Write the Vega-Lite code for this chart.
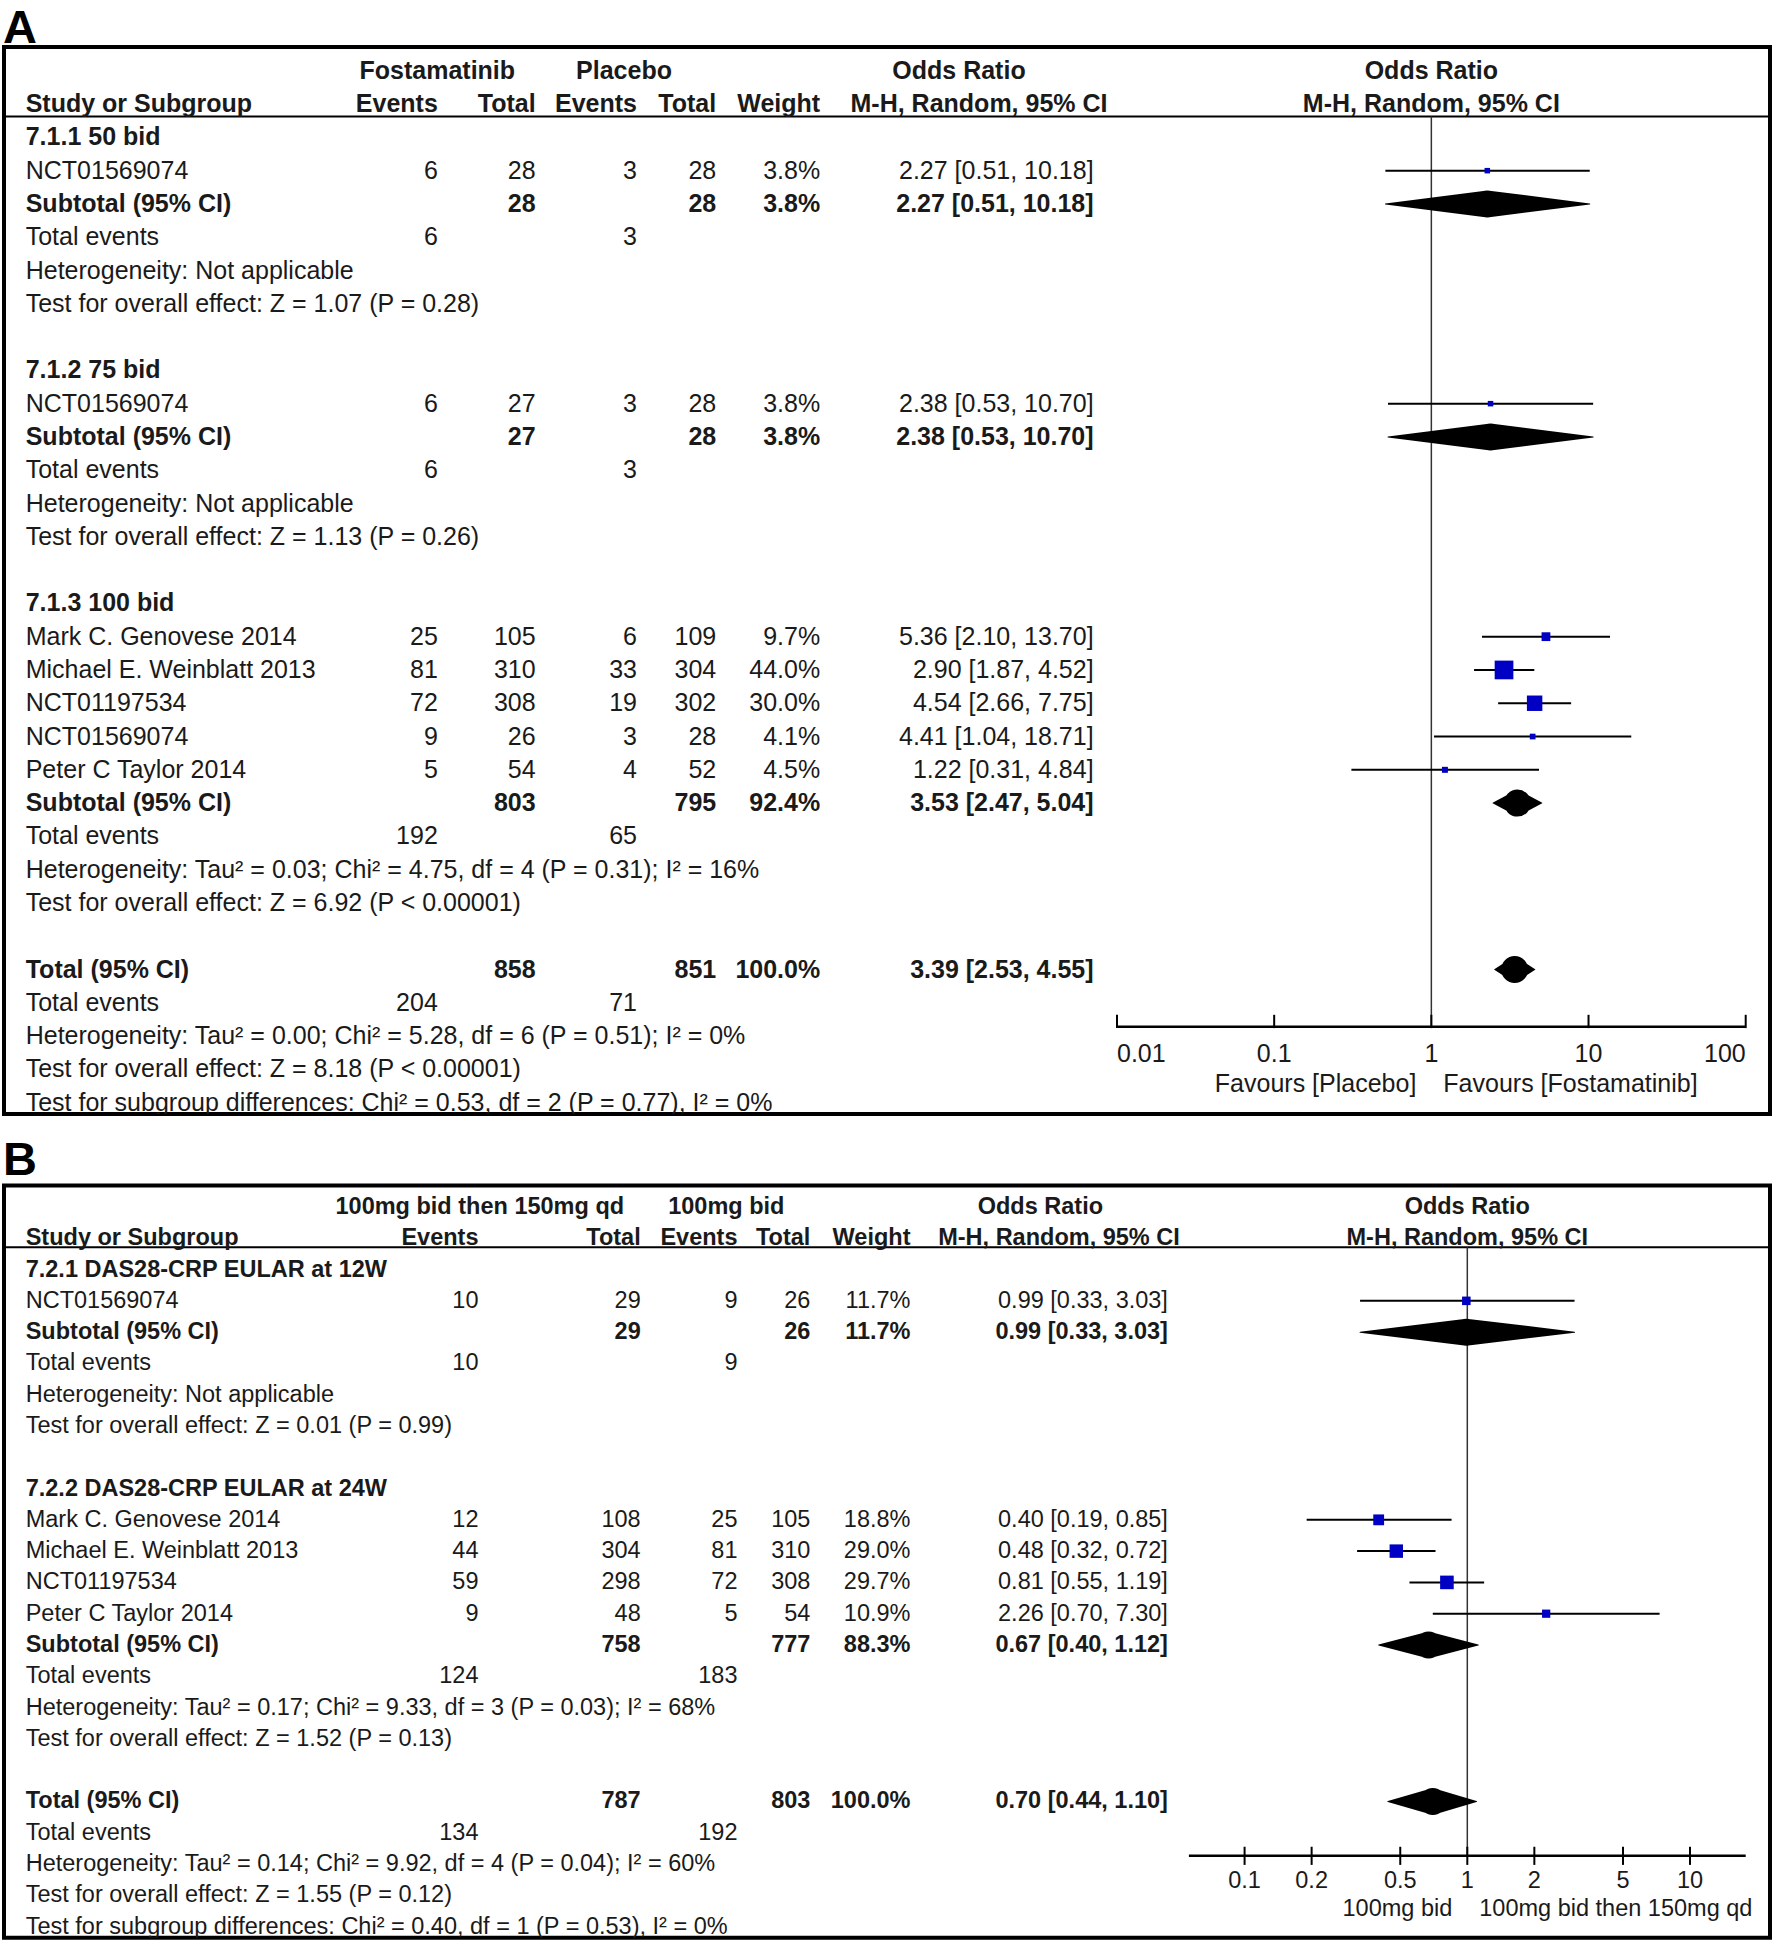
{
"$schema": "https://vega.github.io/schema/vega-lite/v6.json",
"background": "white",
"padding": {"left": 1, "top": 2, "right": 1, "bottom": 0},
"spacing": 71.4,
"bounds": "flush",
"config": {"view": {"stroke": "black", "strokeWidth": 4}},
"datasets": {
"tabA": [
{"r":0,"kind":"header","label":"Study or Subgroup","evF":"Events","totF":"Total","evP":"Events","totP":"Total","weight":"Weight"},
{"r":1,"kind":"group","label":"7.1.1 50 bid"},
{"r":2,"kind":"study","label":"NCT01569074","evF":6,"totF":28,"evP":3,"totP":28,"weight":"3.8%","ci":"2.27 [0.51, 10.18]","est":2.27,"lo":0.51,"hi":10.18,"w":3.8},
{"r":3,"kind":"sub","label":"Subtotal (95% CI)","totF":28,"totP":28,"weight":"3.8%","ci":"2.27 [0.51, 10.18]","est":2.27,"lo":0.51,"hi":10.18},
{"r":4,"kind":"info","label":"Total events","evF":6,"evP":3},
{"r":5,"kind":"info","label":"Heterogeneity: Not applicable"},
{"r":6,"kind":"info","label":"Test for overall effect: Z = 1.07 (P = 0.28)"},
{"r":8,"kind":"group","label":"7.1.2 75 bid"},
{"r":9,"kind":"study","label":"NCT01569074","evF":6,"totF":27,"evP":3,"totP":28,"weight":"3.8%","ci":"2.38 [0.53, 10.70]","est":2.38,"lo":0.53,"hi":10.7,"w":3.8},
{"r":10,"kind":"sub","label":"Subtotal (95% CI)","totF":27,"totP":28,"weight":"3.8%","ci":"2.38 [0.53, 10.70]","est":2.38,"lo":0.53,"hi":10.7},
{"r":11,"kind":"info","label":"Total events","evF":6,"evP":3},
{"r":12,"kind":"info","label":"Heterogeneity: Not applicable"},
{"r":13,"kind":"info","label":"Test for overall effect: Z = 1.13 (P = 0.26)"},
{"r":15,"kind":"group","label":"7.1.3 100 bid"},
{"r":16,"kind":"study","label":"Mark C. Genovese 2014","evF":25,"totF":105,"evP":6,"totP":109,"weight":"9.7%","ci":"5.36 [2.10, 13.70]","est":5.36,"lo":2.1,"hi":13.7,"w":9.7},
{"r":17,"kind":"study","label":"Michael E. Weinblatt 2013","evF":81,"totF":310,"evP":33,"totP":304,"weight":"44.0%","ci":"2.90 [1.87, 4.52]","est":2.9,"lo":1.87,"hi":4.52,"w":44.0},
{"r":18,"kind":"study","label":"NCT01197534","evF":72,"totF":308,"evP":19,"totP":302,"weight":"30.0%","ci":"4.54 [2.66, 7.75]","est":4.54,"lo":2.66,"hi":7.75,"w":30.0},
{"r":19,"kind":"study","label":"NCT01569074","evF":9,"totF":26,"evP":3,"totP":28,"weight":"4.1%","ci":"4.41 [1.04, 18.71]","est":4.41,"lo":1.04,"hi":18.71,"w":4.1},
{"r":20,"kind":"study","label":"Peter C Taylor 2014","evF":5,"totF":54,"evP":4,"totP":52,"weight":"4.5%","ci":"1.22 [0.31, 4.84]","est":1.22,"lo":0.31,"hi":4.84,"w":4.5},
{"r":21,"kind":"sub","label":"Subtotal (95% CI)","totF":803,"totP":795,"weight":"92.4%","ci":"3.53 [2.47, 5.04]","est":3.53,"lo":2.47,"hi":5.04},
{"r":22,"kind":"info","label":"Total events","evF":192,"evP":65},
{"r":23,"kind":"info","label":"Heterogeneity: Tau² = 0.03; Chi² = 4.75, df = 4 (P = 0.31); I² = 16%"},
{"r":24,"kind":"info","label":"Test for overall effect: Z = 6.92 (P < 0.00001)"},
{"r":26,"kind":"total","label":"Total (95% CI)","totF":858,"totP":851,"weight":"100.0%","ci":"3.39 [2.53, 4.55]","est":3.39,"lo":2.53,"hi":4.55},
{"r":27,"kind":"info","label":"Total events","evF":204,"evP":71},
{"r":28,"kind":"info","label":"Heterogeneity: Tau² = 0.00; Chi² = 5.28, df = 6 (P = 0.51); I² = 0%"},
{"r":29,"kind":"info","label":"Test for overall effect: Z = 8.18 (P < 0.00001)"},
{"r":30,"kind":"info","label":"Test for subgroup differences: Chi² = 0.53, df = 2 (P = 0.77), I² = 0%"}
],
"tabB": [
{"r":0,"kind":"header","label":"Study or Subgroup","evF":"Events","totF":"Total","evP":"Events","totP":"Total","weight":"Weight"},
{"r":1,"kind":"group","label":"7.2.1 DAS28-CRP EULAR at 12W"},
{"r":2,"kind":"study","label":"NCT01569074","evF":10,"totF":29,"evP":9,"totP":26,"weight":"11.7%","ci":"0.99 [0.33, 3.03]","est":0.99,"lo":0.33,"hi":3.03,"w":11.7},
{"r":3,"kind":"sub","label":"Subtotal (95% CI)","totF":29,"totP":26,"weight":"11.7%","ci":"0.99 [0.33, 3.03]","est":0.99,"lo":0.33,"hi":3.03},
{"r":4,"kind":"info","label":"Total events","evF":10,"evP":9},
{"r":5,"kind":"info","label":"Heterogeneity: Not applicable"},
{"r":6,"kind":"info","label":"Test for overall effect: Z = 0.01 (P = 0.99)"},
{"r":8,"kind":"group","label":"7.2.2 DAS28-CRP EULAR at 24W"},
{"r":9,"kind":"study","label":"Mark C. Genovese 2014","evF":12,"totF":108,"evP":25,"totP":105,"weight":"18.8%","ci":"0.40 [0.19, 0.85]","est":0.4,"lo":0.19,"hi":0.85,"w":18.8},
{"r":10,"kind":"study","label":"Michael E. Weinblatt 2013","evF":44,"totF":304,"evP":81,"totP":310,"weight":"29.0%","ci":"0.48 [0.32, 0.72]","est":0.48,"lo":0.32,"hi":0.72,"w":29.0},
{"r":11,"kind":"study","label":"NCT01197534","evF":59,"totF":298,"evP":72,"totP":308,"weight":"29.7%","ci":"0.81 [0.55, 1.19]","est":0.81,"lo":0.55,"hi":1.19,"w":29.7},
{"r":12,"kind":"study","label":"Peter C Taylor 2014","evF":9,"totF":48,"evP":5,"totP":54,"weight":"10.9%","ci":"2.26 [0.70, 7.30]","est":2.26,"lo":0.7,"hi":7.3,"w":10.9},
{"r":13,"kind":"sub","label":"Subtotal (95% CI)","totF":758,"totP":777,"weight":"88.3%","ci":"0.67 [0.40, 1.12]","est":0.67,"lo":0.4,"hi":1.12},
{"r":14,"kind":"info","label":"Total events","evF":124,"evP":183},
{"r":15,"kind":"info","label":"Heterogeneity: Tau² = 0.17; Chi² = 9.33, df = 3 (P = 0.03); I² = 68%"},
{"r":16,"kind":"info","label":"Test for overall effect: Z = 1.52 (P = 0.13)"},
{"r":18,"kind":"total","label":"Total (95% CI)","totF":787,"totP":803,"weight":"100.0%","ci":"0.70 [0.44, 1.10]","est":0.7,"lo":0.44,"hi":1.1},
{"r":19,"kind":"info","label":"Total events","evF":134,"evP":192},
{"r":20,"kind":"info","label":"Heterogeneity: Tau² = 0.14; Chi² = 9.92, df = 4 (P = 0.04); I² = 60%"},
{"r":21,"kind":"info","label":"Test for overall effect: Z = 1.55 (P = 0.12)"},
{"r":22,"kind":"info","label":"Test for subgroup differences: Chi² = 0.40, df = 1 (P = 0.53), I² = 0%"}
],
"hdrA": [{"r":-1,"g":"Fostamatinib"},{"r":-1,"g":"Placebo"}],
"hdrB": [{"r":-1,"g":"100mg bid then 150mg qd"},{"r":-1,"g":"100mg bid"}],
"orHdr": [{"r":-1,"t":"Odds Ratio"},{"r":0,"t":"M-H, Random, 95% CI"}],
"ticksA": [{"t":0.01,"lab":"0.01"},{"t":0.1,"lab":"0.1"},{"t":1,"lab":"1"},{"t":10,"lab":"10"},{"t":100,"lab":"100"}],
"ticksB": [{"t":0.1,"lab":"0.1"},{"t":0.2,"lab":"0.2"},{"t":0.5,"lab":"0.5"},{"t":1,"lab":"1"},{"t":2,"lab":"2"},{"t":5,"lab":"5"},{"t":10,"lab":"10"}],
"favA": [{"side":"left","t":"Favours [Placebo]"},{"side":"right","t":"Favours [Fostamatinib]"}],
"favB": [{"side":"left","t":"100mg bid"},{"side":"right","t":"100mg bid then 150mg qd"}],
"panA": [{"lab":"A"}],
"panB": [{"lab":"B"}],
"one": [{"k":1}]
},
"vconcat": [
{
"width": 1766, "height": 1067,
"resolve": {"scale": {"x": "independent", "size": "independent"}},
"layer": [
{"data": {"name": "one"}, "mark": {"type": "rule", "strokeWidth": 2, "color": "black"},
 "encoding": {"y": {"datum": 0.37, "type": "quantitative", "scale": {"domain": [-1.715, 30.34], "reverse": true, "nice": false, "zero": false}, "axis": null}}},
{"data": {"name": "panA"}, "mark": {"type": "text", "align": "left", "baseline": "top", "font": "Liberation Sans, Arial, sans-serif", "fontSize": 47, "fontWeight": "bold", "color": "black", "dx": -1},
 "encoding": {"x": {"field": "lab", "type": "nominal", "scale": {"type": "point", "domain": ["A"], "range": [0, 0]}, "axis": null},
  "y": {"datum": -2.956, "type": "quantitative"}, "text": {"field": "lab", "type": "nominal"}}},
{"data": {"name": "one"}, "mark": {"type": "rule", "strokeWidth": 1.5, "color": "#333333"},
 "encoding": {"x": {"datum": 1, "type": "quantitative", "scale": {"type": "log", "domain": [0.01, 100], "range": [1113, 1741.7], "nice": false}, "axis": null},
  "y": {"datum": 0.37, "type": "quantitative"}, "y2": {"datum": 27.72}}},
{"data": {"name": "one"}, "mark": {"type": "rule", "strokeWidth": 2.5, "color": "black"},
 "encoding": {"x": {"datum": 0.01, "type": "quantitative", "scale": {"type": "log", "domain": [0.01, 100], "range": [1113, 1741.7], "nice": false}, "axis": null},
  "x2": {"datum": 100}, "y": {"datum": 27.72, "type": "quantitative"}}},
{"data": {"name": "ticksA"}, "mark": {"type": "rule", "strokeWidth": 2, "color": "black"},
 "encoding": {"x": {"field": "t", "type": "quantitative", "scale": {"type": "log", "domain": [0.01, 100], "range": [1113, 1741.7], "nice": false}, "axis": null},
  "y": {"datum": 27.36, "type": "quantitative"}, "y2": {"datum": 27.76}}},
{"data": {"name": "ticksA"}, "mark": {"type": "text", "baseline": "middle", "align": {"expr": "datum.t == 0.01 ? 'left' : datum.t == 100 ? 'right' : 'center'"}, "font": "Liberation Sans, Arial, sans-serif", "fontSize": 25, "color": "#1a1a1a"},
 "encoding": {"x": {"field": "t", "type": "quantitative", "scale": {"type": "log", "domain": [0.01, 100], "range": [1113, 1741.7], "nice": false}, "axis": null},
  "y": {"datum": 28.54, "type": "quantitative"}, "text": {"field": "lab"}}},
{"data": {"name": "favA"}, "transform": [{"filter": "datum.side == 'left'"}], "mark": {"type": "text", "baseline": "middle", "align": "right", "dx": -15, "font": "Liberation Sans, Arial, sans-serif", "fontSize": 25, "color": "#1a1a1a"},
 "encoding": {"x": {"datum": 1, "type": "quantitative", "scale": {"type": "log", "domain": [0.01, 100], "range": [1113, 1741.7], "nice": false}, "axis": null},
  "y": {"datum": 29.43, "type": "quantitative"}, "text": {"field": "t"}}},
{"data": {"name": "favA"}, "transform": [{"filter": "datum.side == 'right'"}], "mark": {"type": "text", "baseline": "middle", "align": "left", "dx": 12, "font": "Liberation Sans, Arial, sans-serif", "fontSize": 25, "color": "#1a1a1a"},
 "encoding": {"x": {"datum": 1, "type": "quantitative", "scale": {"type": "log", "domain": [0.01, 100], "range": [1113, 1741.7], "nice": false}, "axis": null},
  "y": {"datum": 29.43, "type": "quantitative"}, "text": {"field": "t"}}},
{"data": {"name": "tabA"}, "transform": [{"filter": "datum.kind == 'study'"}], "mark": {"type": "rule", "strokeWidth": 2, "color": "black"},
 "encoding": {"x": {"field": "lo", "type": "quantitative", "scale": {"type": "log", "domain": [0.01, 100], "range": [1113, 1741.7], "nice": false}, "axis": null},
  "x2": {"field": "hi"}, "y": {"field": "r", "type": "quantitative"}}},
{"data": {"name": "tabA"}, "transform": [{"filter": "datum.kind == 'study'"}], "mark": {"type": "point", "shape": "square", "filled": true, "opacity": 1, "color": "#0000C4"},
 "encoding": {"x": {"field": "est", "type": "quantitative", "scale": {"type": "log", "domain": [0.01, 100], "range": [1113, 1741.7], "nice": false}, "axis": null},
  "y": {"field": "r", "type": "quantitative"},
  "size": {"field": "w", "type": "quantitative", "scale": {"domain": [0, 44], "range": [0, 350]}, "legend": null}}},
{"data": {"name": "tabA"}, "transform": [{"filter": "datum.kind == 'sub' || datum.kind == 'total'"}, {"fold": ["lo", "est", "hi"], "as": ["pt", "val"]}],
 "mark": {"type": "trail", "color": "black"},
 "encoding": {"x": {"field": "val", "type": "quantitative", "scale": {"type": "log", "domain": [0.01, 100], "range": [1113, 1741.7], "nice": false}, "axis": null},
  "y": {"field": "r", "type": "quantitative"},
  "size": {"field": "pt", "type": "ordinal", "scale": {"type": "ordinal", "domain": ["lo", "est", "hi"], "range": [0, 27, 0]}, "legend": null},
  "detail": {"field": "r", "type": "nominal"},
  "order": {"field": "val", "type": "quantitative"}}},
{"data": {"name": "tabA"}, "mark": {"type": "text", "align": "left", "baseline": "middle", "clip": true, "font": "Liberation Sans, Arial, sans-serif", "fontSize": 25, "color": "#1a1a1a", "fontWeight": {"expr": "datum.kind == 'header' || datum.kind == 'group' || datum.kind == 'sub' || datum.kind == 'total' ? 'bold' : 'normal'"}},
 "encoding": {"x": {"datum": "label", "type": "nominal", "scale": {"type": "point", "domain": ["label"], "range": [21.7, 21.7]}, "axis": null},
  "y": {"field": "r", "type": "quantitative"}, "text": {"field": "label", "type": "nominal"}}},
{"data": {"name": "tabA"}, "transform": [{"filter": "isValid(datum.evF)"}], "mark": {"type": "text", "align": "right", "baseline": "middle", "font": "Liberation Sans, Arial, sans-serif", "fontSize": 25, "color": "#1a1a1a", "fontWeight": {"expr": "datum.kind == 'header' || datum.kind == 'sub' || datum.kind == 'total' ? 'bold' : 'normal'"}},
 "encoding": {"x": {"datum": "evF", "type": "nominal", "scale": {"type": "point", "domain": ["evF"], "range": [433.8, 433.8]}, "axis": null},
  "y": {"field": "r", "type": "quantitative"}, "text": {"field": "evF", "type": "nominal"}}},
{"data": {"name": "tabA"}, "transform": [{"filter": "isValid(datum.totF)"}], "mark": {"type": "text", "align": "right", "baseline": "middle", "font": "Liberation Sans, Arial, sans-serif", "fontSize": 25, "color": "#1a1a1a", "fontWeight": {"expr": "datum.kind == 'header' || datum.kind == 'sub' || datum.kind == 'total' ? 'bold' : 'normal'"}},
 "encoding": {"x": {"datum": "totF", "type": "nominal", "scale": {"type": "point", "domain": ["totF"], "range": [531.6, 531.6]}, "axis": null},
  "y": {"field": "r", "type": "quantitative"}, "text": {"field": "totF", "type": "nominal"}}},
{"data": {"name": "tabA"}, "transform": [{"filter": "isValid(datum.evP)"}], "mark": {"type": "text", "align": "right", "baseline": "middle", "font": "Liberation Sans, Arial, sans-serif", "fontSize": 25, "color": "#1a1a1a", "fontWeight": {"expr": "datum.kind == 'header' || datum.kind == 'sub' || datum.kind == 'total' ? 'bold' : 'normal'"}},
 "encoding": {"x": {"datum": "evP", "type": "nominal", "scale": {"type": "point", "domain": ["evP"], "range": [633, 633]}, "axis": null},
  "y": {"field": "r", "type": "quantitative"}, "text": {"field": "evP", "type": "nominal"}}},
{"data": {"name": "tabA"}, "transform": [{"filter": "isValid(datum.totP)"}], "mark": {"type": "text", "align": "right", "baseline": "middle", "font": "Liberation Sans, Arial, sans-serif", "fontSize": 25, "color": "#1a1a1a", "fontWeight": {"expr": "datum.kind == 'header' || datum.kind == 'sub' || datum.kind == 'total' ? 'bold' : 'normal'"}},
 "encoding": {"x": {"datum": "totP", "type": "nominal", "scale": {"type": "point", "domain": ["totP"], "range": [712.2, 712.2]}, "axis": null},
  "y": {"field": "r", "type": "quantitative"}, "text": {"field": "totP", "type": "nominal"}}},
{"data": {"name": "tabA"}, "transform": [{"filter": "isValid(datum.weight)"}], "mark": {"type": "text", "align": "right", "baseline": "middle", "font": "Liberation Sans, Arial, sans-serif", "fontSize": 25, "color": "#1a1a1a", "fontWeight": {"expr": "datum.kind == 'header' || datum.kind == 'sub' || datum.kind == 'total' ? 'bold' : 'normal'"}},
 "encoding": {"x": {"datum": "weight", "type": "nominal", "scale": {"type": "point", "domain": ["weight"], "range": [816.2, 816.2]}, "axis": null},
  "y": {"field": "r", "type": "quantitative"}, "text": {"field": "weight", "type": "nominal"}}},
{"data": {"name": "tabA"}, "transform": [{"filter": "isValid(datum.ci)"}], "mark": {"type": "text", "align": "right", "baseline": "middle", "font": "Liberation Sans, Arial, sans-serif", "fontSize": 25, "color": "#1a1a1a", "fontWeight": {"expr": "datum.kind == 'header' || datum.kind == 'sub' || datum.kind == 'total' ? 'bold' : 'normal'"}},
 "encoding": {"x": {"datum": "ci", "type": "nominal", "scale": {"type": "point", "domain": ["ci"], "range": [1089.6, 1089.6]}, "axis": null},
  "y": {"field": "r", "type": "quantitative"}, "text": {"field": "ci", "type": "nominal"}}},
{"data": {"name": "hdrA"}, "mark": {"type": "text", "align": "center", "baseline": "middle", "font": "Liberation Sans, Arial, sans-serif", "fontSize": 25, "fontWeight": "bold", "color": "#1a1a1a"},
 "encoding": {"x": {"field": "g", "type": "nominal", "scale": {"type": "point", "domain": ["Fostamatinib", "Placebo"], "range": [433.3, 620], "padding": 0}, "axis": null},
  "y": {"field": "r", "type": "quantitative"}, "text": {"field": "g", "type": "nominal"}}},
{"data": {"name": "orHdr"}, "mark": {"type": "text", "align": "center", "baseline": "middle", "font": "Liberation Sans, Arial, sans-serif", "fontSize": 25, "fontWeight": "bold", "color": "#1a1a1a"},
 "encoding": {"x": {"field": "t", "type": "nominal", "scale": {"type": "point", "domain": ["Odds Ratio", "M-H, Random, 95% CI"], "range": [955, 975], "padding": 0}, "axis": null},
  "y": {"field": "r", "type": "quantitative"}, "text": {"field": "t", "type": "nominal"}}},
{"data": {"name": "orHdr"}, "mark": {"type": "text", "align": "center", "baseline": "middle", "font": "Liberation Sans, Arial, sans-serif", "fontSize": 25, "fontWeight": "bold", "color": "#1a1a1a"},
 "encoding": {"x": {"datum": 1, "type": "quantitative", "scale": {"type": "log", "domain": [0.01, 100], "range": [1113, 1741.7], "nice": false}, "axis": null},
  "y": {"field": "r", "type": "quantitative"}, "text": {"field": "t", "type": "nominal"}}}
]
},
{
"width": 1766, "height": 752.4,
"resolve": {"scale": {"x": "independent", "size": "independent"}},
"layer": [
{"data": {"name": "one"}, "mark": {"type": "rule", "strokeWidth": 2, "color": "black"},
 "encoding": {"y": {"datum": 0.29, "type": "quantitative", "scale": {"domain": [-1.69, 22.36], "reverse": true, "nice": false, "zero": false}, "axis": null}}},
{"data": {"name": "panB"}, "mark": {"type": "text", "align": "left", "baseline": "top", "font": "Liberation Sans, Arial, sans-serif", "fontSize": 47, "fontWeight": "bold", "color": "black", "dx": -1},
 "encoding": {"x": {"field": "lab", "type": "nominal", "scale": {"type": "point", "domain": ["B"], "range": [0, 0]}, "axis": null},
  "y": {"datum": -3.218, "type": "quantitative"}, "text": {"field": "lab", "type": "nominal"}}},
{"data": {"name": "one"}, "mark": {"type": "rule", "strokeWidth": 1.5, "color": "#333333"},
 "encoding": {"x": {"datum": 1, "type": "quantitative", "scale": {"type": "log", "domain": [0.05623, 17.783], "range": [1184.9, 1741.7], "nice": false}, "axis": null},
  "y": {"datum": 0.29, "type": "quantitative"}, "y2": {"datum": 19.74}}},
{"data": {"name": "one"}, "mark": {"type": "rule", "strokeWidth": 2.5, "color": "black"},
 "encoding": {"x": {"datum": 0.05623, "type": "quantitative", "scale": {"type": "log", "domain": [0.05623, 17.783], "range": [1184.9, 1741.7], "nice": false}, "axis": null},
  "x2": {"datum": 17.783}, "y": {"datum": 19.74, "type": "quantitative"}}},
{"data": {"name": "ticksB"}, "mark": {"type": "rule", "strokeWidth": 2, "color": "black"},
 "encoding": {"x": {"field": "t", "type": "quantitative", "scale": {"type": "log", "domain": [0.05623, 17.783], "range": [1184.9, 1741.7], "nice": false}, "axis": null},
  "y": {"datum": 19.45, "type": "quantitative"}, "y2": {"datum": 20.03}}},
{"data": {"name": "ticksB"}, "mark": {"type": "text", "baseline": "middle", "align": "center", "font": "Liberation Sans, Arial, sans-serif", "fontSize": 23.5, "color": "#1a1a1a"},
 "encoding": {"x": {"field": "t", "type": "quantitative", "scale": {"type": "log", "domain": [0.05623, 17.783], "range": [1184.9, 1741.7], "nice": false}, "axis": null},
  "y": {"datum": 20.54, "type": "quantitative"}, "text": {"field": "lab"}}},
{"data": {"name": "favB"}, "transform": [{"filter": "datum.side == 'left'"}], "mark": {"type": "text", "baseline": "middle", "align": "right", "dx": -15, "font": "Liberation Sans, Arial, sans-serif", "fontSize": 23.5, "color": "#1a1a1a"},
 "encoding": {"x": {"datum": 1, "type": "quantitative", "scale": {"type": "log", "domain": [0.05623, 17.783], "range": [1184.9, 1741.7], "nice": false}, "axis": null},
  "y": {"datum": 21.44, "type": "quantitative"}, "text": {"field": "t"}}},
{"data": {"name": "favB"}, "transform": [{"filter": "datum.side == 'right'"}], "mark": {"type": "text", "baseline": "middle", "align": "left", "dx": 12, "font": "Liberation Sans, Arial, sans-serif", "fontSize": 23.5, "color": "#1a1a1a"},
 "encoding": {"x": {"datum": 1, "type": "quantitative", "scale": {"type": "log", "domain": [0.05623, 17.783], "range": [1184.9, 1741.7], "nice": false}, "axis": null},
  "y": {"datum": 21.44, "type": "quantitative"}, "text": {"field": "t"}}},
{"data": {"name": "tabB"}, "transform": [{"filter": "datum.kind == 'study'"}], "mark": {"type": "rule", "strokeWidth": 2, "color": "black"},
 "encoding": {"x": {"field": "lo", "type": "quantitative", "scale": {"type": "log", "domain": [0.05623, 17.783], "range": [1184.9, 1741.7], "nice": false}, "axis": null},
  "x2": {"field": "hi"}, "y": {"field": "r", "type": "quantitative"}}},
{"data": {"name": "tabB"}, "transform": [{"filter": "datum.kind == 'study'"}], "mark": {"type": "point", "shape": "square", "filled": true, "opacity": 1, "color": "#0000C4"},
 "encoding": {"x": {"field": "est", "type": "quantitative", "scale": {"type": "log", "domain": [0.05623, 17.783], "range": [1184.9, 1741.7], "nice": false}, "axis": null},
  "y": {"field": "r", "type": "quantitative"},
  "size": {"field": "w", "type": "quantitative", "scale": {"domain": [0, 29.7], "range": [0, 185]}, "legend": null}}},
{"data": {"name": "tabB"}, "transform": [{"filter": "datum.kind == 'sub' || datum.kind == 'total'"}, {"fold": ["lo", "est", "hi"], "as": ["pt", "val"]}],
 "mark": {"type": "trail", "color": "black"},
 "encoding": {"x": {"field": "val", "type": "quantitative", "scale": {"type": "log", "domain": [0.05623, 17.783], "range": [1184.9, 1741.7], "nice": false}, "axis": null},
  "y": {"field": "r", "type": "quantitative"},
  "size": {"field": "pt", "type": "ordinal", "scale": {"type": "ordinal", "domain": ["lo", "est", "hi"], "range": [0, 27, 0]}, "legend": null},
  "detail": {"field": "r", "type": "nominal"},
  "order": {"field": "val", "type": "quantitative"}}},
{"data": {"name": "tabB"}, "mark": {"type": "text", "align": "left", "baseline": "middle", "clip": true, "font": "Liberation Sans, Arial, sans-serif", "fontSize": 23.5, "color": "#1a1a1a", "fontWeight": {"expr": "datum.kind == 'header' || datum.kind == 'group' || datum.kind == 'sub' || datum.kind == 'total' ? 'bold' : 'normal'"}},
 "encoding": {"x": {"datum": "label", "type": "nominal", "scale": {"type": "point", "domain": ["label"], "range": [21.7, 21.7]}, "axis": null},
  "y": {"field": "r", "type": "quantitative"}, "text": {"field": "label", "type": "nominal"}}},
{"data": {"name": "tabB"}, "transform": [{"filter": "isValid(datum.evF)"}], "mark": {"type": "text", "align": "right", "baseline": "middle", "font": "Liberation Sans, Arial, sans-serif", "fontSize": 23.5, "color": "#1a1a1a", "fontWeight": {"expr": "datum.kind == 'header' || datum.kind == 'sub' || datum.kind == 'total' ? 'bold' : 'normal'"}},
 "encoding": {"x": {"datum": "evF", "type": "nominal", "scale": {"type": "point", "domain": ["evF"], "range": [474.5, 474.5]}, "axis": null},
  "y": {"field": "r", "type": "quantitative"}, "text": {"field": "evF", "type": "nominal"}}},
{"data": {"name": "tabB"}, "transform": [{"filter": "isValid(datum.totF)"}], "mark": {"type": "text", "align": "right", "baseline": "middle", "font": "Liberation Sans, Arial, sans-serif", "fontSize": 23.5, "color": "#1a1a1a", "fontWeight": {"expr": "datum.kind == 'header' || datum.kind == 'sub' || datum.kind == 'total' ? 'bold' : 'normal'"}},
 "encoding": {"x": {"datum": "totF", "type": "nominal", "scale": {"type": "point", "domain": ["totF"], "range": [636.7, 636.7]}, "axis": null},
  "y": {"field": "r", "type": "quantitative"}, "text": {"field": "totF", "type": "nominal"}}},
{"data": {"name": "tabB"}, "transform": [{"filter": "isValid(datum.evP)"}], "mark": {"type": "text", "align": "right", "baseline": "middle", "font": "Liberation Sans, Arial, sans-serif", "fontSize": 23.5, "color": "#1a1a1a", "fontWeight": {"expr": "datum.kind == 'header' || datum.kind == 'sub' || datum.kind == 'total' ? 'bold' : 'normal'"}},
 "encoding": {"x": {"datum": "evP", "type": "nominal", "scale": {"type": "point", "domain": ["evP"], "range": [733.5, 733.5]}, "axis": null},
  "y": {"field": "r", "type": "quantitative"}, "text": {"field": "evP", "type": "nominal"}}},
{"data": {"name": "tabB"}, "transform": [{"filter": "isValid(datum.totP)"}], "mark": {"type": "text", "align": "right", "baseline": "middle", "font": "Liberation Sans, Arial, sans-serif", "fontSize": 23.5, "color": "#1a1a1a", "fontWeight": {"expr": "datum.kind == 'header' || datum.kind == 'sub' || datum.kind == 'total' ? 'bold' : 'normal'"}},
 "encoding": {"x": {"datum": "totP", "type": "nominal", "scale": {"type": "point", "domain": ["totP"], "range": [806.4, 806.4]}, "axis": null},
  "y": {"field": "r", "type": "quantitative"}, "text": {"field": "totP", "type": "nominal"}}},
{"data": {"name": "tabB"}, "transform": [{"filter": "isValid(datum.weight)"}], "mark": {"type": "text", "align": "right", "baseline": "middle", "font": "Liberation Sans, Arial, sans-serif", "fontSize": 23.5, "color": "#1a1a1a", "fontWeight": {"expr": "datum.kind == 'header' || datum.kind == 'sub' || datum.kind == 'total' ? 'bold' : 'normal'"}},
 "encoding": {"x": {"datum": "weight", "type": "nominal", "scale": {"type": "point", "domain": ["weight"], "range": [906.5, 906.5]}, "axis": null},
  "y": {"field": "r", "type": "quantitative"}, "text": {"field": "weight", "type": "nominal"}}},
{"data": {"name": "tabB"}, "transform": [{"filter": "isValid(datum.ci)"}], "mark": {"type": "text", "align": "right", "baseline": "middle", "font": "Liberation Sans, Arial, sans-serif", "fontSize": 23.5, "color": "#1a1a1a", "fontWeight": {"expr": "datum.kind == 'header' || datum.kind == 'sub' || datum.kind == 'total' ? 'bold' : 'normal'"}},
 "encoding": {"x": {"datum": "ci", "type": "nominal", "scale": {"type": "point", "domain": ["ci"], "range": [1163.9, 1163.9]}, "axis": null},
  "y": {"field": "r", "type": "quantitative"}, "text": {"field": "ci", "type": "nominal"}}},
{"data": {"name": "hdrB"}, "mark": {"type": "text", "align": "center", "baseline": "middle", "font": "Liberation Sans, Arial, sans-serif", "fontSize": 23.5, "fontWeight": "bold", "color": "#1a1a1a"},
 "encoding": {"x": {"field": "g", "type": "nominal", "scale": {"type": "point", "domain": ["100mg bid then 150mg qd", "100mg bid"], "range": [475.8, 722.3], "padding": 0}, "axis": null},
  "y": {"field": "r", "type": "quantitative"}, "text": {"field": "g", "type": "nominal"}}},
{"data": {"name": "orHdr"}, "mark": {"type": "text", "align": "center", "baseline": "middle", "font": "Liberation Sans, Arial, sans-serif", "fontSize": 23.5, "fontWeight": "bold", "color": "#1a1a1a"},
 "encoding": {"x": {"field": "t", "type": "nominal", "scale": {"type": "point", "domain": ["Odds Ratio", "M-H, Random, 95% CI"], "range": [1036.4, 1055], "padding": 0}, "axis": null},
  "y": {"field": "r", "type": "quantitative"}, "text": {"field": "t", "type": "nominal"}}},
{"data": {"name": "orHdr"}, "mark": {"type": "text", "align": "center", "baseline": "middle", "font": "Liberation Sans, Arial, sans-serif", "fontSize": 23.5, "fontWeight": "bold", "color": "#1a1a1a"},
 "encoding": {"x": {"datum": 1, "type": "quantitative", "scale": {"type": "log", "domain": [0.05623, 17.783], "range": [1184.9, 1741.7], "nice": false}, "axis": null},
  "y": {"field": "r", "type": "quantitative"}, "text": {"field": "t", "type": "nominal"}}}
]
}
]
}
